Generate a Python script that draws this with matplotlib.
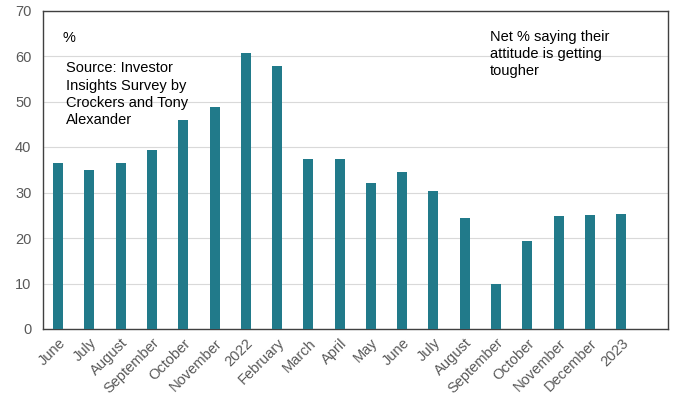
import matplotlib.pyplot as plt
import numpy as np

plt.rcParams['font.family'] = ['Liberation Sans', 'DejaVu Sans']

months = ['June', 'July', 'August', 'September', 'October', 'November', '2022',
          'February', 'March', 'April', 'May', 'June', 'July', 'August',
          'September', 'October', 'November', 'December', '2023']
net_tougher = [36.5, 35.0, 36.4, 39.4, 45.9, 48.8, 60.6, 57.8, 37.4, 37.3,
               32.1, 34.5, 30.3, 24.5, 9.8, 19.3, 24.8, 25.1, 25.3]

fig = plt.figure(figsize=(6.77, 3.99), dpi=100)
ax = fig.add_axes([42.5 / 677, 1 - 329 / 399, (668 - 42.5) / 677, (329 - 10.5) / 399])

x = np.arange(len(months))
ax.bar(x, net_tougher, width=0.32, color='#217A8A', zorder=3)

ax.set_xlim(-0.5, len(months) + 0.5)
ax.set_ylim(0, 70)
ax.set_yticks(range(0, 71, 10))
ax.grid(axis='y', color='#d9d9d9', linewidth=0.8, zorder=0)

ax.set_xticks(x)
ax.set_xticklabels(months, rotation=45, ha='right', rotation_mode='anchor')
ax.tick_params(axis='both', length=0, labelsize=10.5, labelcolor='#595959')
ax.tick_params(axis='x', pad=5)
ax.tick_params(axis='y', pad=8)

for side in ax.spines.values():
    side.set_color('#404040')
    side.set_linewidth(1.0)

ax.text(0.032, 0.935, '%', transform=ax.transAxes, fontsize=10.5, va='top')
ax.text(0.038, 0.84, 'Source: Investor\nInsights Survey by\nCrockers and Tony\nAlexander',
        transform=ax.transAxes, fontsize=10.5, va='top', linespacing=1.3)
ax.text(0.715, 0.94, 'Net % saying their\nattitude is getting\ntougher',
        transform=ax.transAxes, fontsize=10.5, va='top', linespacing=1.3)

fig.savefig('out.png', dpi=100)
